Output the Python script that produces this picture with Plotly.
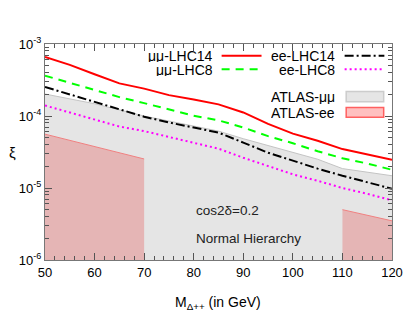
import plotly.graph_objects as go

# masses (GeV)
mass = [50, 55, 60, 65, 70, 75, 80, 85, 90, 95, 100, 105, 110, 115, 120]

mumu_lhc14 = [6.61e-4, 5.13e-4, 3.80e-4, 2.84e-4, 2.40e-4, 1.95e-4, 1.70e-4, 1.45e-4,
              1.12e-4, 7.76e-5, 5.69e-5, 4.54e-5, 3.47e-5, 2.96e-5, 2.47e-5]
mumu_lhc8 = [3.63e-4, 2.89e-4, 2.31e-4, 1.83e-4, 1.51e-4, 1.23e-4, 1.01e-4, 8.71e-5,
             6.92e-5, 5.25e-5, 4.19e-5, 3.24e-5, 2.59e-5, 2.19e-5, 1.79e-5]
ee_lhc14 = [2.53e-4, 2.00e-4, 1.55e-4, 1.23e-4, 9.77e-5, 8.13e-5, 6.92e-5, 5.89e-5,
            4.27e-5, 3.09e-5, 2.40e-5, 1.86e-5, 1.48e-5, 1.20e-5, 9.77e-6]
ee_lhc8 = [1.40e-4, 1.11e-4, 8.91e-5, 7.14e-5, 6.17e-5, 5.13e-5, 4.27e-5, 3.52e-5,
           2.63e-5, 2.04e-5, 1.55e-5, 1.26e-5, 1.00e-5, 8.32e-6, 6.73e-6]

# ATLAS exclusion regions
atlas_mumu_x = [50, 60, 70, 80, 85, 90, 95, 100, 105, 110, 115, 120]
atlas_mumu_top = [2.02e-4, 1.48e-4, 1.00e-4, 7.33e-5, 6.17e-5, 4.84e-5, 3.89e-5,
                  3.09e-5, 2.51e-5, 1.86e-5, 1.66e-5, 1.48e-5]
atlas_ee_x1 = [50, 70]
atlas_ee_top1 = [5.6e-5, 2.53e-5]
atlas_ee_x2 = [110, 120]
atlas_ee_top2 = [5.0e-6, 3.5e-6]
y_floor = 1e-6

y_ticks = [1e-6, 1e-5, 1e-4, 1e-3]
y_ticktext = ["10<sup>-6</sup>", "10<sup>-5</sup>", "10<sup>-4</sup>", "10<sup>-3</sup>"]
y_minor = [k * 10.0 ** e for e in (-6, -5, -4) for k in range(2, 10)]

FONT = "Liberation Sans, Arial, sans-serif"
GRAY_FILL = "#e5e5e5"
PINK_FILL = "#e5b5b5"

fig = go.Figure()


def region(xs, tops, fill, edge):
    fig.add_trace(go.Scatter(
        x=xs + xs[::-1], y=tops + [y_floor] * len(xs),
        mode="lines", fill="toself", fillcolor=fill,
        line=dict(width=0), hoverinfo="skip", showlegend=False))
    fig.add_trace(go.Scatter(x=xs, y=tops, mode="lines",
                             line=dict(color=edge, width=1), showlegend=False))


region(atlas_mumu_x, atlas_mumu_top, GRAY_FILL, "#c4c4c4")
region(atlas_ee_x1, atlas_ee_top1, PINK_FILL, "#f08080")
region(atlas_ee_x2, atlas_ee_top2, PINK_FILL, "#f08080")

curves = [
    (mumu_lhc14, "#ff0000", "solid"),
    (mumu_lhc8, "#00ff00", "8px,6px"),
    (ee_lhc14, "#000000", "9px,3px,2px,3px"),
    (ee_lhc8, "#ff00ff", "2px,3px"),
]
for ys, col, dash in curves:
    fig.add_trace(go.Scatter(x=mass, y=ys, mode="lines",
                             line=dict(color=col, width=2, dash=dash),
                             showlegend=False))

# gnuplot-style key: text on the left, sample on the right
key = [
    ("μμ-LHC14", 0.49, 0.946, 0.509, 0.624, "#ff0000", "solid"),
    ("μμ-LHC8", 0.49, 0.883, 0.509, 0.624, "#00ff00", "8px,6px"),
    ("ee-LHC14", 0.841, 0.946, 0.8635, 0.978, "#000000", "9px,3px,2px,3px"),
    ("ee-LHC8", 0.841, 0.883, 0.8635, 0.978, "#ff00ff", "2px,3px"),
]
for txt, tx, ty, x0, x1, col, dash in key:
    fig.add_annotation(x=tx, y=ty, xref="paper", yref="paper", text=txt,
                       showarrow=False, xanchor="right", yanchor="middle", height=13,
                       font=dict(size=14, color="#000"))
    fig.add_shape(type="line", xref="paper", yref="paper", x0=x0, x1=x1, y0=ty, y1=ty,
                  line=dict(color=col, width=2, dash=dash))

boxes = [
    ("ATLAS-μμ", 0.757, 0.733, 0.780, "#e5e5e5", "#cccccc"),
    ("ATLAS-ee", 0.682, 0.661, 0.706, "#ffc0c0", "#ff6060"),
]
for txt, ty, y0, y1, fill, edge in boxes:
    fig.add_annotation(x=0.841, y=ty, xref="paper", yref="paper", text=txt,
                       showarrow=False, xanchor="right", yanchor="middle", height=15,
                       font=dict(size=14, color="#000"))
    fig.add_shape(type="rect", xref="paper", yref="paper", x0=0.868, x1=0.976,
                  y0=y0, y1=y1, fillcolor=fill, line=dict(color=edge, width=1.5))

fig.add_annotation(x=80.1, y=-5.311, text="cos2δ=0.2", showarrow=False,
                   xanchor="left", yanchor="middle", font=dict(size=13.5, color="#222"))
fig.add_annotation(x=80.1, y=-5.704, text="Normal Hierarchy", showarrow=False,
                   xanchor="left", yanchor="middle", font=dict(size=13.5, color="#222"))

# axis titles
fig.add_annotation(x=0.4986, y=-0.201, xref="paper", yref="paper",
                   text="M<sub>Δ++</sub> (in GeV)", showarrow=False,
                   xanchor="center", yanchor="middle", font=dict(size=14, color="#000"))
fig.add_annotation(x=-0.093, y=0.5, xref="paper", yref="paper", text="ξ",
                   showarrow=False, xanchor="center", yanchor="middle",
                   font=dict(size=15, color="#000"))

fig.update_xaxes(range=[50, 120], tickvals=list(range(50, 121, 10)),
                 ticks="inside", ticklen=7, tickcolor="#555", tickwidth=1,
                 minor=dict(ticks="inside", ticklen=4, dtick=2, tickcolor="#555", showgrid=False),
                 showline=True, linecolor="#777", linewidth=1, mirror="allticks",
                 showgrid=False, zeroline=False, tickfont=dict(size=13, color="#000"))
fig.update_yaxes(type="log", range=[-6, -3], tickvals=y_ticks, ticktext=y_ticktext,
                 ticks="inside", ticklen=7, tickcolor="#555", tickwidth=1,
                 minor=dict(ticks="inside", ticklen=4, tickvals=y_minor, tickcolor="#555", showgrid=False),
                 showline=True, linecolor="#777", linewidth=1, mirror="allticks",
                 showgrid=False, zeroline=False, tickfont=dict(size=13, color="#000"))

# page body has an 8px margin, so the figure is 8px smaller and margins shifted
fig.update_layout(width=407, height=324, margin=dict(l=36.5, r=22.5, t=36.3, b=72.3),
                  plot_bgcolor="white", paper_bgcolor="white",
                  font=dict(family=FONT), showlegend=False)

fig.write_html("out.html")
